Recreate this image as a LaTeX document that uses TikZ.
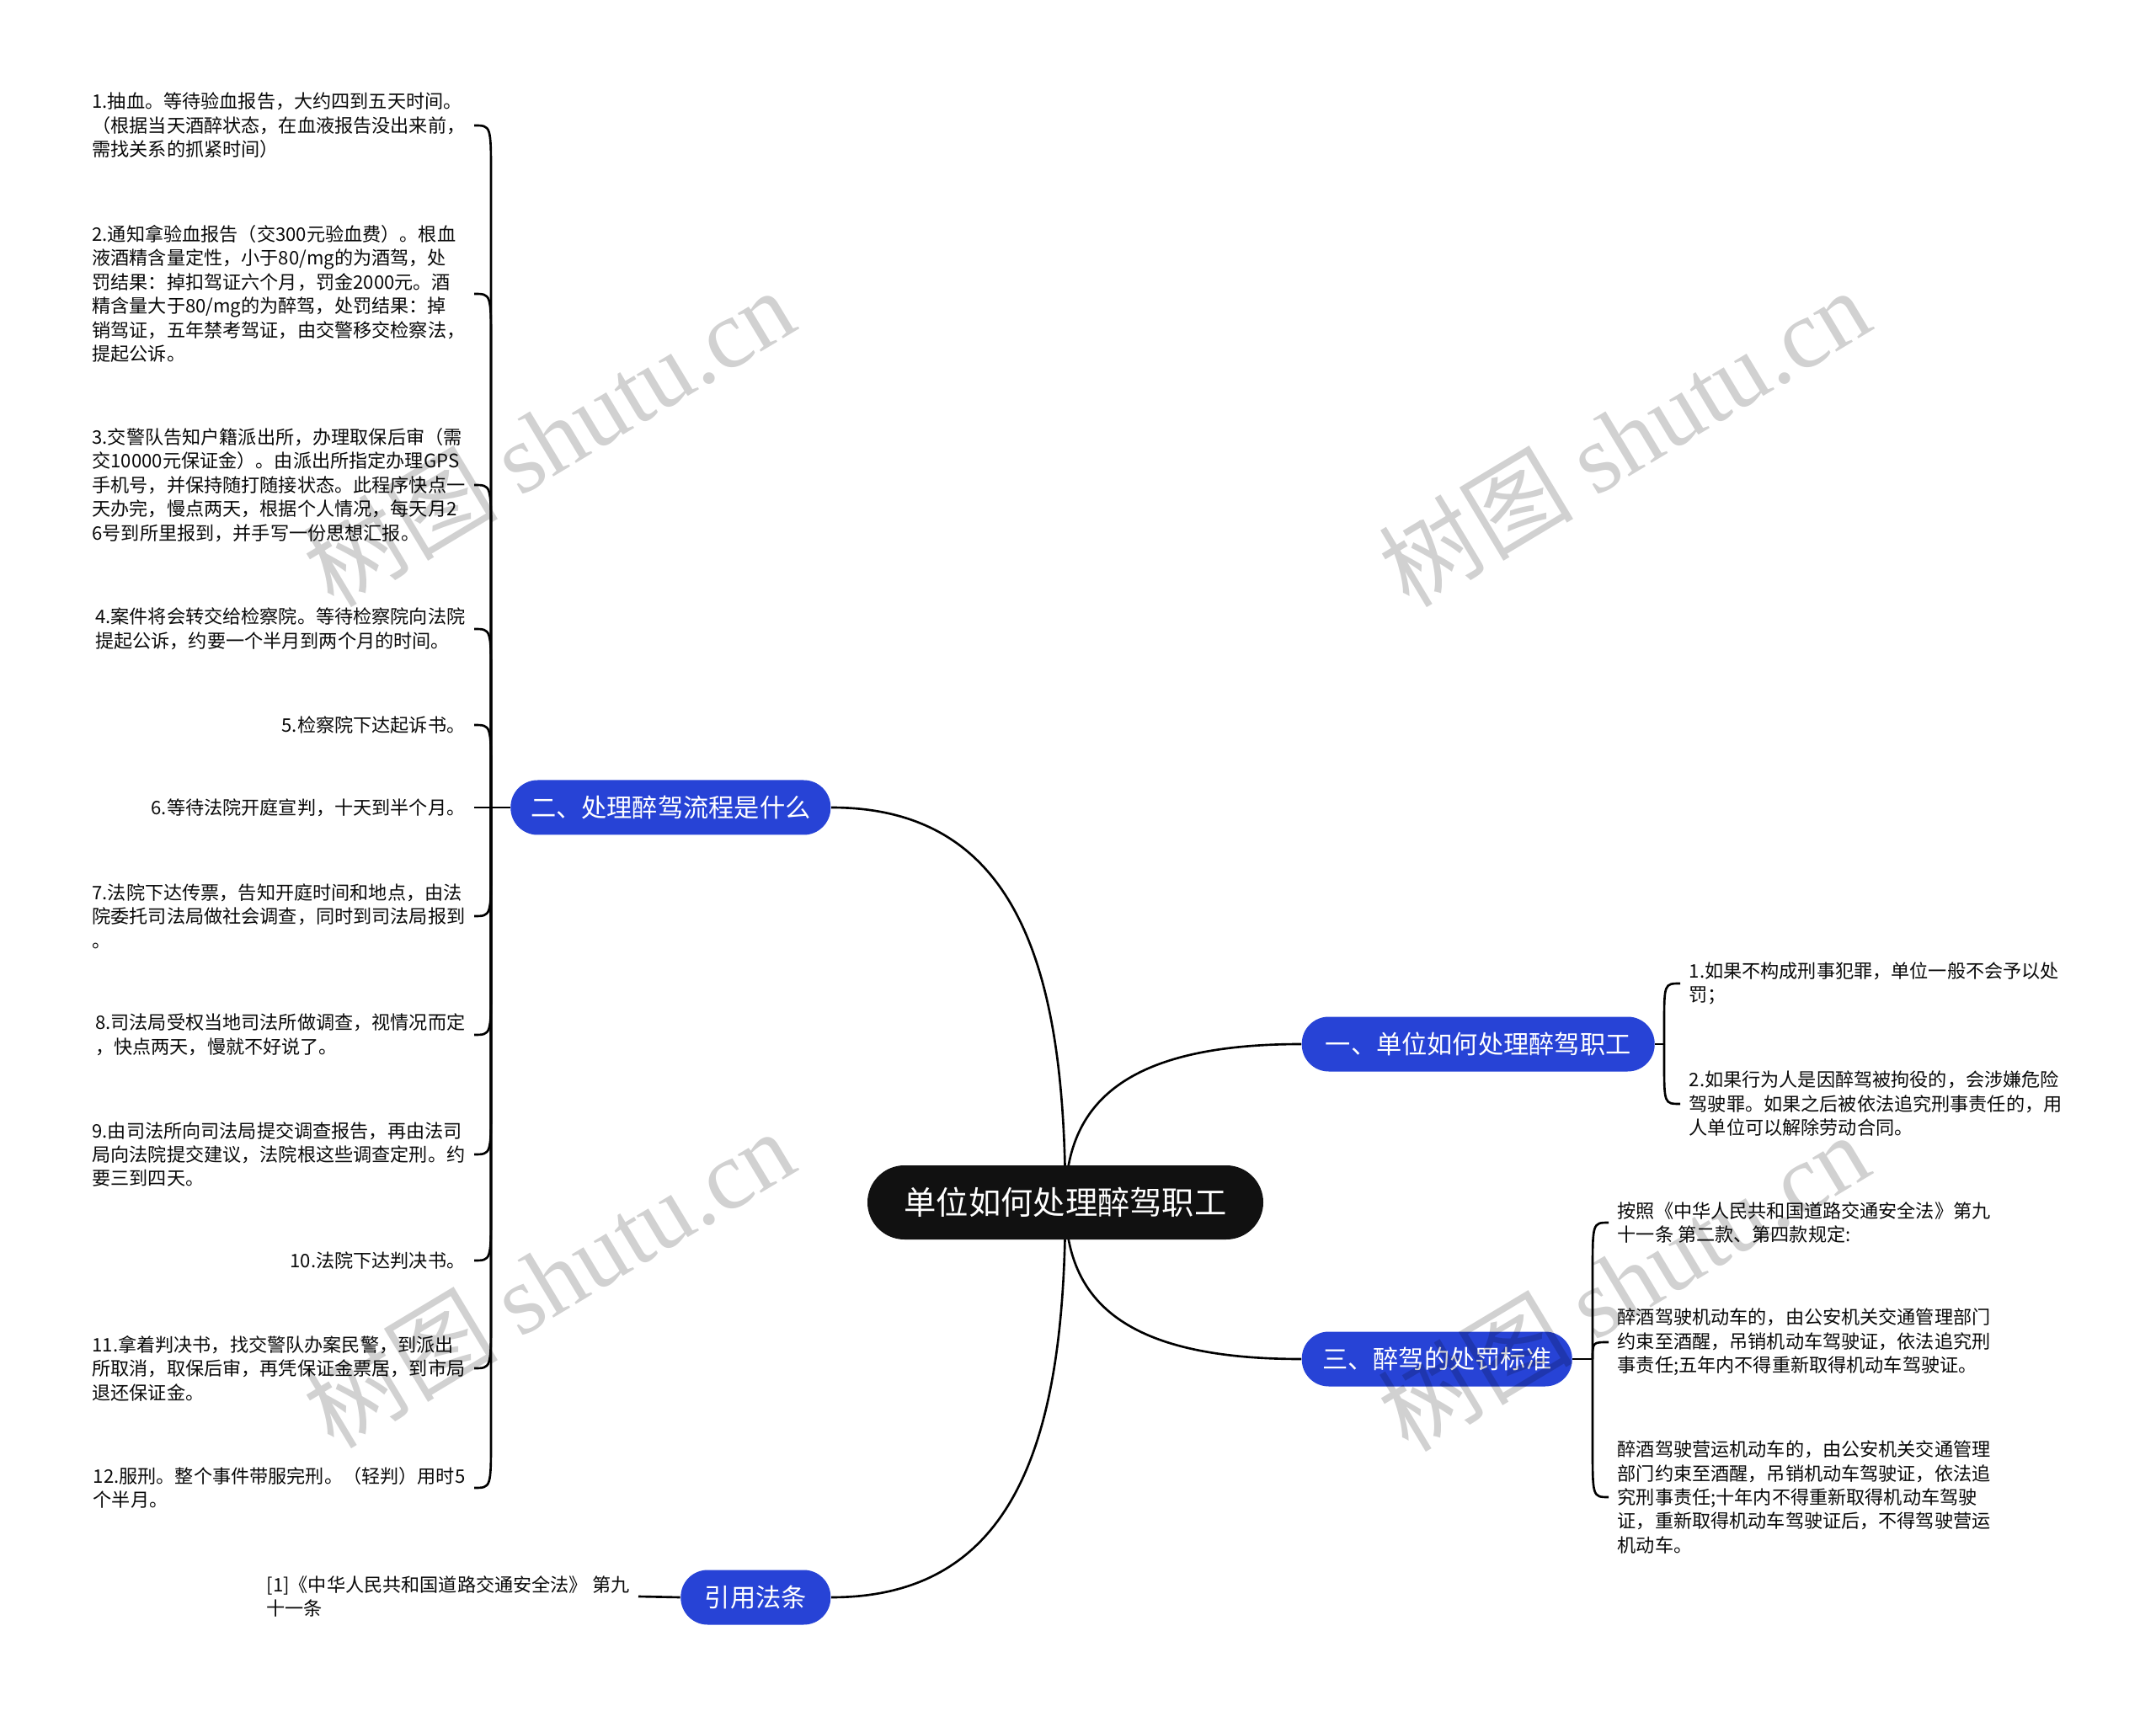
\documentclass[tikz,border=0pt]{standalone}
\usepackage{fontspec}
\setmainfont{Noto Sans CJK SC}
\newfontfamily\wmserif{Liberation Serif}
\usepackage{tikz}
\usetikzlibrary{positioning,backgrounds}
\definecolor{mapblue}{RGB}{39,67,214}
\definecolor{mapblack}{RGB}{17,17,17}
\definecolor{leafink}{RGB}{10,10,10}
\tikzset{
  rootbox/.style={fill=mapblack, text=white, rounded corners=0.44cm, minimum height=0.88cm,
      inner sep=0pt, font=\fontsize{10.9}{13}\selectfont},
  topicbox/.style={fill=mapblue, text=white, rounded corners=0.32cm, minimum height=0.65cm,
      inner sep=0pt, font=\fontsize{8.6}{10}\selectfont},
  leafl/.style={anchor=east, align=left, inner xsep=0.1cm, inner ysep=0pt, text=leafink,
      font=\fontsize{6.3}{8.1}\selectfont},
  leafr/.style={leafl, anchor=west},
  link/.style={black, line width=0.75pt},
  wmark/.style={text=black, text opacity=0.18, rotate=31, font=\fontsize{33}{33}\selectfont},
}

\begin{document}
\begin{tikzpicture}
  \useasboundingbox (0,0) rectangle (25.60,20.31);
  \node[rootbox, minimum width=4.70cm] (root) at (12.65,6.03) {单位如何处理醉驾职工};
  \node[topicbox, minimum width=3.80cm, anchor=east] (flow) at (9.87,10.72) {二、处理醉驾流程是什么};
  \node[topicbox, minimum width=4.19cm, anchor=west] (unit) at (15.45,7.91) {一、单位如何处理醉驾职工};
  \node[topicbox, minimum width=3.21cm, anchor=west] (penalty) at (15.45,4.17) {三、醉驾的处罚标准};
  \node[topicbox, minimum width=1.78cm, anchor=east] (cite) at (9.87,1.34) {引用法条};

  \coordinate (fhub) at (5.83,10.72);
  \coordinate (uhub) at (19.76,7.91);
  \coordinate (phub) at (18.91,4.17);

  \node[leafl] (s1) at (5.63,18.82) {1.抽血。等待验血报告，大约四到五天时间。\\（根据当天酒醉状态，在血液报告没出来前，\\需找关系的抓紧时间）};
  \node[leafl] (s2) at (5.63,16.82) {2.通知拿验血报告（交300元验血费）。根血\\液酒精含量定性，小于80/mg的为酒驾，处\\罚结果：掉扣驾证六个月，罚金2000元。酒\\精含量大于80/mg的为醉驾，处罚结果：掉\\销驾证，五年禁考驾证，由交警移交检察法，\\提起公诉。};
  \node[leafl] (s3) at (5.63,14.55) {3.交警队告知户籍派出所，办理取保后审（需\\交10000元保证金）。由派出所指定办理GPS\\手机号，并保持随打随接状态。此程序快点一\\天办完，慢点两天，根据个人情况，每天月2\\6号到所里报到，并手写一份思想汇报。};
  \node[leafl] (s4) at (5.63,12.84) {4.案件将会转交给检察院。等待检察院向法院\\提起公诉，约要一个半月到两个月的时间。};
  \node[leafl] (s5) at (5.63,11.70) {5.检察院下达起诉书。};
  \node[leafl] (s6) at (5.63,10.72) {6.等待法院开庭宣判，十天到半个月。};
  \node[leafl] (s7) at (5.63,9.43) {7.法院下达传票，告知开庭时间和地点，由法\\院委托司法局做社会调查，同时到司法局报到\\。};
  \node[leafl] (s8) at (5.63,8.02) {8.司法局受权当地司法所做调查，视情况而定\\，快点两天，慢就不好说了。};
  \node[leafl] (s9) at (5.63,6.60) {9.由司法所向司法局提交调查报告，再由法司\\局向法院提交建议，法院根这些调查定刑。约\\要三到四天。};
  \node[leafl] (s10) at (5.63,5.34) {10.法院下达判决书。};
  \node[leafl] (s11) at (5.63,4.06) {11.拿着判决书，找交警队办案民警，到派出\\所取消，取保后审，再凭保证金票居，到市局\\退还保证金。};
  \node[leafl] (s12) at (5.63,2.64) {12.服刑。整个事件带服完刑。（轻判）用时5\\个半月。};

  \node[leafr] (u1) at (19.95,8.63) {1.如果不构成刑事犯罪，单位一般不会予以处\\罚；};
  \node[leafr] (u2) at (19.95,7.20) {2.如果行为人是因醉驾被拘役的，会涉嫌危险\\驾驶罪。如果之后被依法追究刑事责任的，用\\人单位可以解除劳动合同。};

  \node[leafr] (p1) at (19.10,5.79) {按照《中华人民共和国道路交通安全法》第九\\十一条 第二款、第四款规定:};
  \node[leafr] (p2) at (19.10,4.37) {醉酒驾驶机动车的，由公安机关交通管理部门\\约束至酒醒，吊销机动车驾驶证，依法追究刑\\事责任;五年内不得重新取得机动车驾驶证。};
  \node[leafr] (p3) at (19.10,2.53) {醉酒驾驶营运机动车的，由公安机关交通管理\\部门约束至酒醒，吊销机动车驾驶证，依法追\\究刑事责任;十年内不得重新取得机动车驾驶\\证，重新取得机动车驾驶证后，不得驾驶营运\\机动车。};

  \node[leafl] (c1) at (7.58,1.35) {[1]《中华人民共和国道路交通安全法》 第九\\十一条};

  \begin{pgfonlayer}{background}
    \fill[white] (0,0) rectangle (25.60,20.31);
    \draw[link] (root.center) .. controls +(0,2.8) and +(2.2,0) .. (flow.east);
    \draw[link] (root.center) .. controls +(0,1.1) and +(-2.2,0) .. (unit.west);
    \draw[link] (root.center) .. controls +(0,-1.1) and +(-2.2,0) .. (penalty.west);
    \draw[link] (root.center) .. controls +(0,-2.8) and +(2.2,0) .. (cite.east);

    \draw[link] (flow.west) -- (s6.east);
    \foreach \i in {1,...,5}
      \draw[link] (fhub) -- ([yshift=-6mm]fhub |- s\i.east) .. controls (fhub |- s\i.east) .. (s\i.east);
    \foreach \i in {7,...,12}
      \draw[link] (fhub) -- ([yshift=6mm]fhub |- s\i.east) .. controls (fhub |- s\i.east) .. (s\i.east);

    \draw[link] (unit.east) -- (uhub);
    \draw[link] (uhub) -- ([yshift=-5mm]uhub |- u1.west) .. controls (uhub |- u1.west) .. (u1.west);
    \draw[link] (uhub) -- ([yshift=5mm]uhub |- u2.west) .. controls (uhub |- u2.west) .. (u2.west);

    \draw[link] (penalty.east) -- (phub);
    \draw[link] (phub) -- ([yshift=-6mm]phub |- p1.west) .. controls (phub |- p1.west) .. (p1.west);
    \draw[link] (phub) .. controls (phub |- p2.west) .. (p2.west);
    \draw[link] (phub) -- ([yshift=6mm]phub |- p3.west) .. controls (phub |- p3.west) .. (p3.west);

    \draw[link] (cite.west) -- (c1.east);
  \end{pgfonlayer}

  \node[wmark] (wm1) at (6.51,15.12) {树图 {\wmserif shutu.cn}};
  \node[wmark] (wm2) at (19.28,15.12) {树图 {\wmserif shutu.cn}};
  \node[wmark] (wm3) at (6.51,5.13) {树图 {\wmserif shutu.cn}};
  \node[wmark] (wm4) at (19.27,5.09) {树图 {\wmserif shutu.cn}};
\end{tikzpicture}
\end{document}
